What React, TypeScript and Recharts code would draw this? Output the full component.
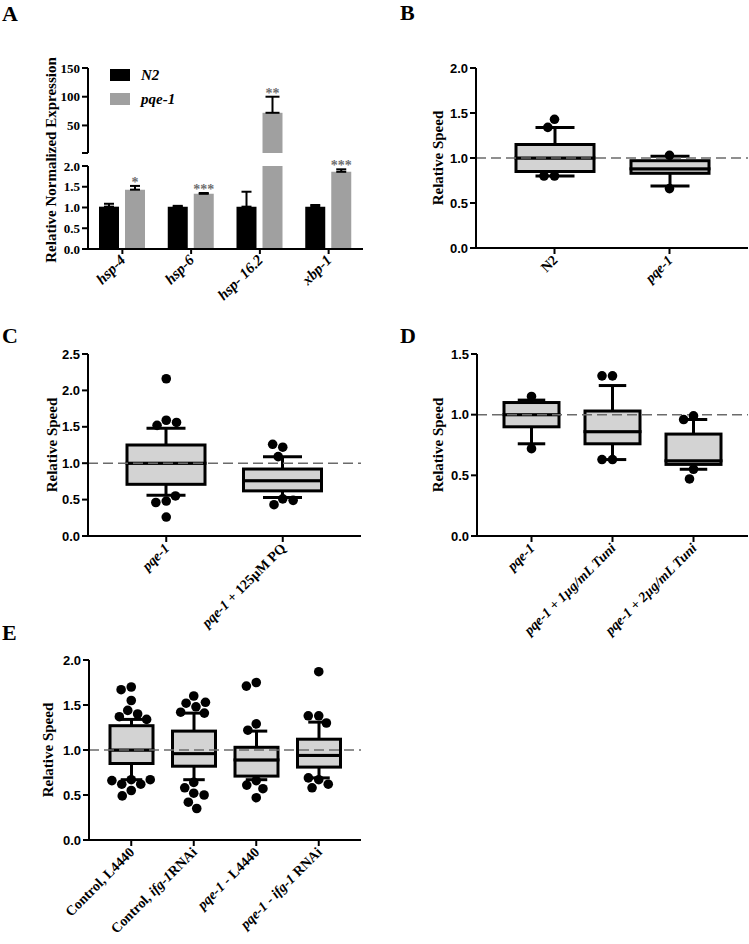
import React from 'react';
import {
  ComposedChart,
  Bar,
  Line,
  XAxis,
  YAxis,
  ReferenceLine,
  ErrorBar,
  LabelList,
  Legend,
} from 'recharts';

const SERIF = '"Liberation Serif", "Times New Roman", serif';
const SANS = '"Liberation Sans", Arial, sans-serif';

// ---------- Panel A ----------
const A_GENES = ['hsp-4', 'hsp-6', 'hsp- 16.2', 'xbp-1'];
const A_N2 = [1.02, 1.02, 1.02, 1.02];
const A_N2_ERR = [0.07, 0.02, 0.36, 0.04];
const A_PQE = [1.43, 1.33, 72, 1.86];
const A_PQE_ERR = [0.09, 0.02, 28, 0.06];
const A_SIG = ['*', '***', '**', '***'];
const A_LOWER_TICKS = [0, 0.5, 1, 1.5, 2];
const A_UPPER_TICKS = [2, 50, 100, 150];
const A_SPLIT = 2;

// ---------- Panel B ----------
const B_GROUPS = ['N2', '_pqe-1_'];
const B_WHISKER_LOW = [0.8, 0.69];
const B_Q1 = [0.85, 0.83];
const B_MEDIAN = [1.0, 0.88];
const B_Q3 = [1.15, 0.97];
const B_WHISKER_HIGH = [1.34, 1.02];
const B_POINTS = [[1.43, 1.34, 0.8, 0.8], [1.03, 0.66]];
const B_TICKS = [0, 0.5, 1, 1.5, 2];

// ---------- Panel C ----------
const C_GROUPS = ['_pqe-1_', '_pqe-1_ + 125µM PQ'];
const C_WHISKER_LOW = [0.56, 0.53];
const C_Q1 = [0.71, 0.62];
const C_MEDIAN = [1.0, 0.76];
const C_Q3 = [1.25, 0.92];
const C_WHISKER_HIGH = [1.48, 1.09];
const C_POINTS = [
  [2.16, 1.59, 1.52, 1.56, 0.48, 0.46, 0.55, 0.26],
  [1.22, 1.26, 1.09, 0.51, 0.43, 0.49],
];
const C_TICKS = [0, 0.5, 1, 1.5, 2, 2.5];

// ---------- Panel D ----------
const D_GROUPS = ['_pqe-1_', '_pqe-1 + 1µg/mL Tuni_', '_pqe-1 + 2µg/mL Tuni_'];
const D_WHISKER_LOW = [0.76, 0.63, 0.55];
const D_Q1 = [0.9, 0.76, 0.59];
const D_MEDIAN = [1.0, 0.86, 0.62];
const D_Q3 = [1.1, 1.03, 0.84];
const D_WHISKER_HIGH = [1.12, 1.24, 0.96];
const D_POINTS = [
  [1.15, 0.72],
  [1.32, 1.32, 0.63, 0.63],
  [0.99, 0.96, 0.55, 0.47],
];
const D_TICKS = [0, 0.5, 1, 1.5];

// ---------- Panel E ----------
const E_GROUPS = [
  'Control, L4440',
  'Control, _ifg-1_RNAi',
  '_pqe-1_ - L4440',
  '_pqe-1_ - _ifg-1_ RNAi',
];
const E_WHISKER_LOW = [0.67, 0.67, 0.67, 0.69];
const E_Q1 = [0.85, 0.82, 0.71, 0.81];
const E_MEDIAN = [1.0, 0.96, 0.89, 0.94];
const E_Q3 = [1.27, 1.21, 1.03, 1.12];
const E_WHISKER_HIGH = [1.34, 1.41, 1.21, 1.31];
const E_POINTS = [
  [1.7, 1.67, 1.55, 1.44, 1.4, 1.37, 1.34, 0.67, 0.62, 0.62, 0.66, 0.67, 0.55, 0.49],
  [1.6, 1.52, 1.48, 1.53, 1.42, 1.41, 0.64, 0.52, 0.58, 0.5, 0.42, 0.35],
  [1.75, 1.71, 1.29, 1.22, 0.66, 0.61, 0.57, 0.47],
  [1.87, 1.38, 1.38, 1.3, 0.67, 0.69, 0.62, 0.58],
];
const E_TICKS = [0, 0.5, 1, 1.5, 2];

// ---------- helpers ----------
const AXIS_STYLE = { stroke: '#000', strokeWidth: 2 };

function swarm(vals: number[], ppu: number, d: number): number[] {
  const placed: { x: number; y: number }[] = [];
  return vals.map((v) => {
    const y = v * ppu;
    const cands = [0];
    for (const p of placed) {
      const dy = Math.abs(p.y - y);
      if (dy < d) {
        const dx = Math.sqrt(d * d - dy * dy);
        cands.push(p.x - dx, p.x + dx);
      }
    }
    const ok = cands.filter((c) => placed.every((p) => Math.hypot(p.x - c, p.y - y) >= d - 0.01));
    ok.sort((a, b) => Math.abs(a) - Math.abs(b));
    const x = ok.length ? ok[0] : 0;
    placed.push({ x, y });
    return x;
  });
}

function renderParts(label: string) {
  return label.split('_').map((s, i) =>
    s ? (
      <tspan key={i} fontStyle={i % 2 ? 'italic' : 'normal'}>
        {s}
      </tspan>
    ) : null
  );
}

const makeRotTick = (fontSize: number, italicAll: boolean) => (props: any) => {
  const { x, y, payload } = props;
  const label = String(payload.value);
  return (
    <g transform={`translate(${x + 4},${y + 5})`}>
      <text
        transform="rotate(-45)"
        textAnchor="end"
        fontFamily={SERIF}
        fontWeight="bold"
        fontStyle={italicAll ? 'italic' : 'normal'}
        fontSize={fontSize}
        fill="#000"
      >
        {italicAll ? label : renderParts(label)}
      </text>
    </g>
  );
};
const RotTick = makeRotTick(14, false);
const RotTickA = makeRotTick(15, true);

const yLabel = (text: string, x: number, y: number, size: number) => () =>
  (
    <text
      x={x}
      y={y}
      transform={`rotate(-90, ${x}, ${y})`}
      textAnchor="middle"
      dominantBaseline="central"
      fontFamily={SERIF}
      fontWeight="bold"
      fontSize={size}
      fill="#000"
    >
      {text}
    </text>
  );

const whiskerShape = (cap: number, atTop: boolean) => (props: any) => {
  const { x, y, width, height } = props;
  if (x == null || y == null) return <g />;
  const top = Math.min(y, y + height);
  const bot = Math.max(y, y + height);
  const cx = x + width / 2;
  const capY = atTop ? top : bot;
  return (
    <g>
      <line x1={cx} x2={cx} y1={top} y2={bot} stroke="#000" strokeWidth={3} />
      <line x1={cx - cap / 2} x2={cx + cap / 2} y1={capY} y2={capY} stroke="#000" strokeWidth={3} />
    </g>
  );
};

const boxShape = (props: any) => {
  const { x, y, width, height } = props;
  if (x == null || y == null) return <g />;
  return (
    <rect
      x={x}
      y={Math.min(y, y + height)}
      width={width}
      height={Math.abs(height)}
      fill="#d3d3d3"
      stroke="#000"
      strokeWidth={3}
    />
  );
};

type BoxProps = {
  left: number;
  top: number;
  width: number;
  height: number;
  plot: [number, number, number, number];
  domain: [number, number];
  ticks: number[];
  groups: string[];
  wl: number[];
  q1: number[];
  med: number[];
  q3: number[];
  wh: number[];
  points: number[][];
  boxW: number;
  xPad: number;
  yLabelX: number;
  xAxisH: number;
};

function BoxPanel(p: BoxProps) {
  const [l, t, r, b] = p.plot;
  const ppu = (b - t) / (p.domain[1] - p.domain[0]);
  const offsets = p.points.map((pts) => swarm(pts, ppu, 10.5));
  const maxPts = Math.max(...p.points.map((a) => a.length));
  const rows = p.groups.map((name, i) => {
    const row: any = {
      name,
      base: p.wl[i],
      s1: p.q1[i] - p.wl[i],
      s2: p.med[i] - p.q1[i],
      s3: p.q3[i] - p.med[i],
      s4: p.wh[i] - p.q3[i],
    };
    p.points[i].forEach((v, k) => {
      row[`p${k}`] = v;
    });
    return row;
  });
  const YW = 40;
  const margin = {
    top: t - p.top,
    left: l - p.left - YW,
    right: p.left + p.width - r,
    bottom: p.top + p.height - b - p.xAxisH,
  };
  const cap = p.boxW / 2;
  const dotFor = (k: number) => (props: any) => {
    const { cx, cy, index, payload } = props;
    const key = `d${k}-${index}`;
    if (cx == null || cy == null || payload == null || payload[`p${k}`] == null) return <g key={key} />;
    const off = (offsets[index] && offsets[index][k]) || 0;
    return <circle key={key} cx={cx + off} cy={cy} r={4.8} fill="#000" />;
  };
  const keys = Array.from({ length: maxPts }, (_, k) => k);
  return (
    <div style={{ position: 'absolute', left: p.left, top: p.top }}>
      <ComposedChart width={p.width} height={p.height} data={rows} margin={margin} barSize={p.boxW}>
        <XAxis
          dataKey="name"
          type="category"
          interval={0}
          padding={{ left: p.xPad, right: p.xPad }}
          height={p.xAxisH}
          tick={RotTick}
          tickSize={6}
          tickLine={AXIS_STYLE}
          axisLine={AXIS_STYLE}
        />
        <XAxis
          xAxisId="top"
          orientation="top"
          dataKey="name"
          height={0}
          tick={false}
          tickLine={false}
          axisLine={AXIS_STYLE}
        />
        <YAxis
          type="number"
          domain={p.domain}
          ticks={p.ticks}
          interval={0}
          allowDataOverflow
          width={YW}
          tickSize={6}
          tickMargin={2}
          tickLine={AXIS_STYLE}
          axisLine={AXIS_STYLE}
          tick={{ fontFamily: SANS, fontWeight: 'bold', fontSize: 13, fill: '#000' }}
          tickFormatter={(v: number) => v.toFixed(1)}
          label={yLabel('Relative Speed', p.yLabelX - p.left, (t + b) / 2 - p.top, 15)}
        />
        <YAxis
          yAxisId="r"
          orientation="right"
          type="number"
          domain={p.domain}
          allowDataOverflow
          width={0}
          tick={false}
          tickLine={false}
          axisLine={AXIS_STYLE}
        />
        <Bar dataKey="base" stackId="box" fill="transparent" isAnimationActive={false} />
        <Bar dataKey="s1" stackId="box" shape={whiskerShape(cap, false)} isAnimationActive={false} />
        <Bar dataKey="s2" stackId="box" shape={boxShape} isAnimationActive={false} />
        <Bar dataKey="s3" stackId="box" shape={boxShape} isAnimationActive={false} />
        <Bar dataKey="s4" stackId="box" shape={whiskerShape(cap, true)} isAnimationActive={false} />
        <ReferenceLine y={1} stroke="#6b6b6b" strokeWidth={1.5} strokeDasharray="10 5" />
        {keys.map((k) => (
          <Line
            key={k}
            dataKey={`p${k}`}
            stroke="none"
            dot={dotFor(k)}
            activeDot={false}
            legendType="none"
            isAnimationActive={false}
          />
        ))}
      </ComposedChart>
    </div>
  );
}

// ---------- Panel A charts ----------
const aLowerRows = A_GENES.map((g, i) => ({
  name: g,
  idx: i,
  n2: A_N2[i],
  pqe: A_PQE[i],
  n2Err: A_N2[i] <= A_SPLIT ? [0, A_N2_ERR[i]] : undefined,
  pqeErr: A_PQE[i] <= A_SPLIT ? [0, A_PQE_ERR[i]] : undefined,
}));
const aUpperRows = A_GENES.map((g, i) => ({
  name: g,
  idx: i,
  n2: A_N2[i] > A_SPLIT ? A_N2[i] : null,
  pqe: A_PQE[i] > A_SPLIT ? A_PQE[i] : null,
  n2Err: A_N2[i] > A_SPLIT ? [0, A_N2_ERR[i]] : undefined,
  pqeErr: A_PQE[i] > A_SPLIT ? [0, A_PQE_ERR[i]] : undefined,
}));

const sigLabel = (upper: boolean, base: number) => (props: any) => {
  const i = props.value;
  if (typeof i !== 'number') return null;
  const v = A_PQE[i];
  if (upper !== v > A_SPLIT || !A_SIG[i]) return null;
  const vb = props.viewBox || props;
  const { x, y, width, height } = vb;
  if (x == null || y == null || !height) return null;
  const top = Math.min(y, y + height);
  const ppu = Math.abs(height) / (v - base);
  const capY = top - A_PQE_ERR[i] * ppu;
  return (
    <text
      x={x + width / 2}
      y={capY + 1}
      textAnchor="middle"
      fontFamily={SERIF}
      fontWeight="bold"
      fontSize={14}
      fill="#6e6e6e"
    >
      {A_SIG[i]}
    </text>
  );
};

const legendContent = (props: any) => {
  const payload = props.payload || [];
  return (
    <div style={{ display: 'flex', flexDirection: 'column', gap: 12 }}>
      {payload.map((e: any, i: number) => (
        <div key={i} style={{ display: 'flex', alignItems: 'center', height: 12 }}>
          <span style={{ display: 'inline-block', width: 20, height: 12, background: e.color }} />
          <span
            style={{
              marginLeft: 11,
              fontFamily: SERIF,
              fontWeight: 'bold',
              fontStyle: 'italic',
              fontSize: 15,
              lineHeight: '12px',
              color: '#000',
            }}
          >
            {e.value}
          </span>
        </div>
      ))}
    </div>
  );
};

function PanelA() {
  const axisTickA = { fontFamily: SERIF, fontWeight: 'bold', fontSize: 13, fill: '#000' };
  return (
    <>
      <div style={{ position: 'absolute', left: 0, top: 40 }}>
        <ComposedChart
          width={380}
          height={280}
          data={aLowerRows}
          margin={{ top: 126, left: 48, right: 17, bottom: 11 }}
          barGap={6}
          barSize={20}
        >
          <XAxis
            dataKey="name"
            interval={0}
            height={60}
            tick={RotTickA}
            tickSize={5}
            tickLine={AXIS_STYLE}
            axisLine={AXIS_STYLE}
          />
          <YAxis
            type="number"
            domain={[0, 2]}
            ticks={A_LOWER_TICKS}
            interval={0}
            allowDataOverflow
            width={40}
            tickSize={6}
            tickMargin={2}
            tickLine={AXIS_STYLE}
            axisLine={AXIS_STYLE}
            tick={axisTickA}
            tickFormatter={(v: number) => v.toFixed(1)}
            label={yLabel('Relative Normalized Expression', 51, 120, 15)}
          />
          <Bar dataKey="n2" name="N2" fill="#000" isAnimationActive={false}>
            <ErrorBar dataKey="n2Err" width={5} stroke="#000" strokeWidth={2} direction="y" />
          </Bar>
          <Bar dataKey="pqe" name="pqe-1" fill="#a0a0a0" isAnimationActive={false}>
            <ErrorBar dataKey="pqeErr" width={5} stroke="#000" strokeWidth={2} direction="y" />
            <LabelList dataKey="idx" content={sigLabel(false, 0)} />
          </Bar>
        </ComposedChart>
      </div>
      <div style={{ position: 'absolute', left: 0, top: 40 }}>
        <ComposedChart
          width={380}
          height={130}
          data={aUpperRows}
          margin={{ top: 28, left: 48, right: 17, bottom: 17 }}
          barGap={6}
          barSize={20}
        >
          <XAxis dataKey="name" hide />
          <YAxis
            type="number"
            domain={[A_SPLIT, 150]}
            ticks={A_UPPER_TICKS}
            interval={0}
            allowDataOverflow
            width={40}
            tickSize={6}
            tickMargin={2}
            tickLine={AXIS_STYLE}
            axisLine={AXIS_STYLE}
            tick={axisTickA}
            tickFormatter={(v: number) => (v === A_SPLIT ? '' : String(v))}
          />
          <Bar dataKey="n2" name="N2" fill="#000" isAnimationActive={false}>
            <ErrorBar dataKey="n2Err" width={7} stroke="#000" strokeWidth={2} direction="y" />
          </Bar>
          <Bar dataKey="pqe" name="pqe-1" fill="#a0a0a0" isAnimationActive={false}>
            <ErrorBar dataKey="pqeErr" width={7} stroke="#000" strokeWidth={2} direction="y" />
            <LabelList dataKey="idx" content={sigLabel(true, A_SPLIT)} />
          </Bar>
          <Legend
            layout="vertical"
            align="center"
            verticalAlign="middle"
            wrapperStyle={{ left: 110, top: 29, width: 120, height: 40 }}
            content={legendContent}
          />
        </ComposedChart>
      </div>
    </>
  );
}

const Letter = ({ ch, x, y }: { ch: string; x: number; y: number }) => (
  <div
    style={{
      position: 'absolute',
      left: x,
      top: y,
      fontFamily: SERIF,
      fontWeight: 'bold',
      fontSize: 22,
      lineHeight: 'normal',
      color: '#000',
    }}
  >
    {ch}
  </div>
);

export default function App() {
  return (
    <div style={{ position: 'absolute', left: 0, top: 0, width: 749, height: 944, background: '#fff', overflow: 'hidden' }}>
      <Letter ch="A" x={2} y={1} />
      <Letter ch="B" x={400} y={0} />
      <Letter ch="C" x={2} y={323} />
      <Letter ch="D" x={400} y={323} />
      <Letter ch="E" x={2} y={620} />
      <PanelA />
      <BoxPanel
        left={380}
        top={0}
        width={369}
        height={300}
        plot={[476, 68, 748, 248]}
        domain={[0, 2]}
        ticks={B_TICKS}
        groups={B_GROUPS}
        wl={B_WHISKER_LOW}
        q1={B_Q1}
        med={B_MEDIAN}
        q3={B_Q3}
        wh={B_WHISKER_HIGH}
        points={B_POINTS}
        boxW={78}
        xPad={21}
        yLabelX={438}
        xAxisH={50}
      />
      <BoxPanel
        left={0}
        top={310}
        width={380}
        height={360}
        plot={[88, 354, 361, 536]}
        domain={[0, 2.5]}
        ticks={C_TICKS}
        groups={C_GROUPS}
        wl={C_WHISKER_LOW}
        q1={C_Q1}
        med={C_MEDIAN}
        q3={C_Q3}
        wh={C_WHISKER_HIGH}
        points={C_POINTS}
        boxW={78}
        xPad={20}
        yLabelX={52}
        xAxisH={130}
      />
      <BoxPanel
        left={380}
        top={310}
        width={369}
        height={360}
        plot={[477, 354, 748, 536]}
        domain={[0, 1.5]}
        ticks={D_TICKS}
        groups={D_GROUPS}
        wl={D_WHISKER_LOW}
        q1={D_Q1}
        med={D_MEDIAN}
        q3={D_Q3}
        wh={D_WHISKER_HIGH}
        points={D_POINTS}
        boxW={55}
        xPad={14}
        yLabelX={438}
        xAxisH={130}
      />
      <BoxPanel
        left={0}
        top={620}
        width={380}
        height={324}
        plot={[89, 660, 361, 840]}
        domain={[0, 2]}
        ticks={E_TICKS}
        groups={E_GROUPS}
        wl={E_WHISKER_LOW}
        q1={E_Q1}
        med={E_MEDIAN}
        q3={E_Q3}
        wh={E_WHISKER_HIGH}
        points={E_POINTS}
        boxW={43}
        xPad={11}
        yLabelX={48}
        xAxisH={100}
      />
    </div>
  );
}
